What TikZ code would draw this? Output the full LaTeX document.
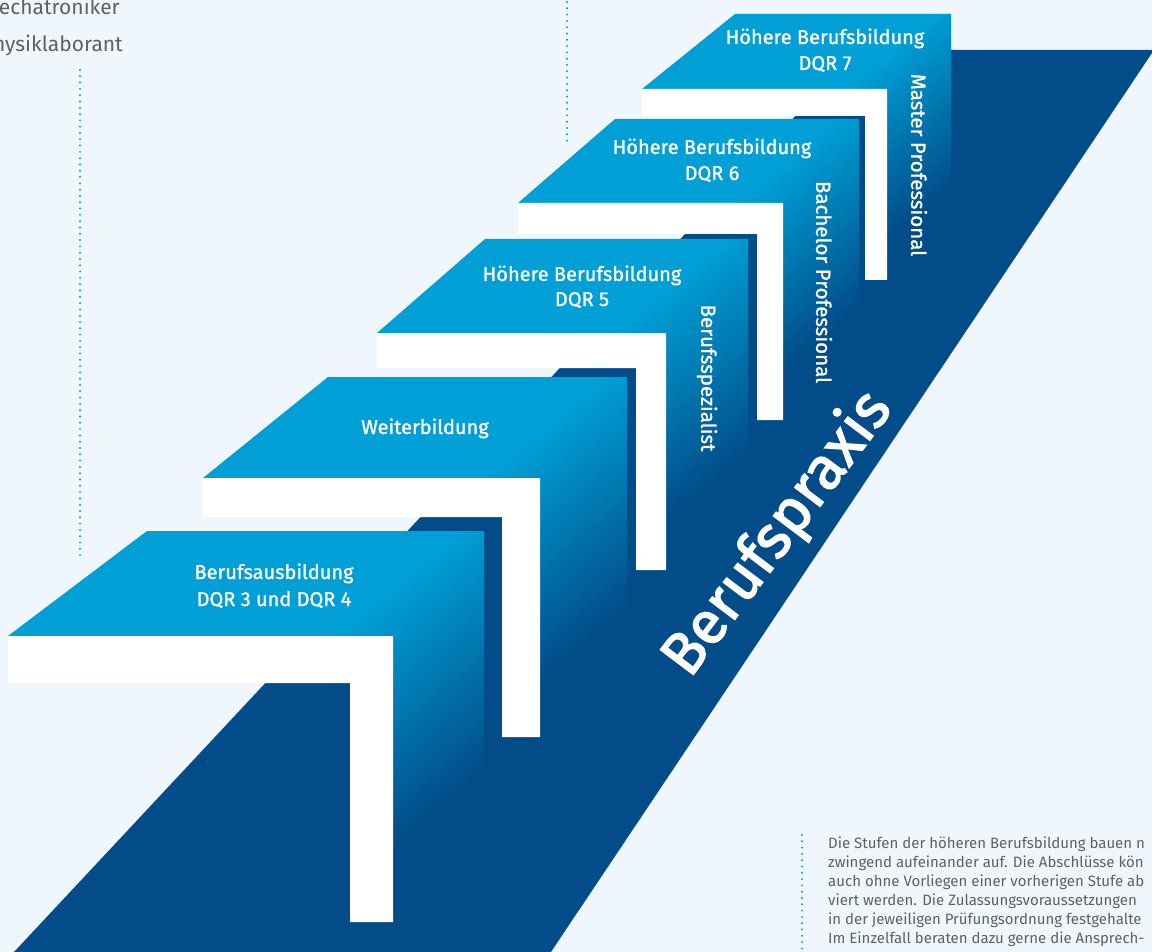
\documentclass[tikz,border=0pt]{standalone}
\usepackage{fontspec}
\setmainfont{Fira Sans}
\newfontfamily\stufenfont{Fira Sans}[FakeBold=1.2]
\newfontfamily\praxisfont{Fira Sans}[FakeBold=2.2]
\definecolor{hgblau}{RGB}{240,247,252}
\definecolor{cyanblau}{RGB}{0,160,214}
\definecolor{dunkelblau}{RGB}{2,77,137}
\definecolor{textgrau}{RGB}{96,96,96}
% Stufe: links, oben, unterkante, balken unten, ecke oben, rechts, saeule links, saeule rechts, saeule unten
\newcommand{\stufe}[9]{%
\begin{scope}
\clip (#1,#3) -- (#5,#2) -- (#6,#2) -- (#6,#9) -- (#8,#9) -- (#8,#3) -- cycle;
\pgfmathsetmacro{\gab}{-0.38*(#3-#2)}
\pgfmathsetmacro{\glen}{1.9*(#3-#2)}
\begin{scope}[shift={(#8,#3)},rotate=-50]
\fill[cyanblau] (-900,-600) rectangle ({\gab+0.8},600);
\foreach \i in {0,...,39} {
  \pgfmathsetmacro{\gA}{\gab+\i*\glen/40}
  \pgfmathsetmacro{\gB}{\gA+\glen/40+0.8}
  \pgfmathsetmacro{\anteil}{100-\i*2.5}
  \fill[cyanblau!\anteil!dunkelblau] (\gA,-600) rectangle (\gB,600);
}
\fill[dunkelblau] ({\gab+\glen},-600) rectangle (900,600);
\end{scope}
\end{scope}
\fill[white] (#1,#3) -- (#8,#3) -- (#8,#9) -- (#7,#9) -- (#7,#4) -- (#1,#4) -- cycle;
}
\begin{document}
\begin{tikzpicture}[x=1pt,y=-1pt,
  stufentext/.style={anchor=base,text=white,font=\stufenfont\fontsize{20}{24}\selectfont},
  seitentext/.style={rotate=-90,text=white,font=\stufenfont\fontsize{20.5}{24}\selectfont},
  infotext/.style={anchor=base west,text=textgrau,inner sep=0pt,font=\fontsize{15}{19}\selectfont},
  berufe/.style={anchor=base east,text=textgrau,inner sep=0pt,font=\fontsize{21}{24}\selectfont},
  punktlinie/.style={cyanblau,line width=2.2pt,line cap=round,dash pattern=on 0pt off 6.3pt}]
\useasboundingbox (0,0) rectangle (1152,952);
\clip (0,0) rectangle (1152,952);
\fill[hgblau] (0,0) rectangle (1152,952);
% gepunktete Linien
\draw[punktlinie] (80,70) -- (80,561);
\draw[punktlinie] (567,2) -- (567,141);
\draw[punktlinie] (802,835) -- (802,952);
% Berufspraxis-Band
\fill[dunkelblau] (14,952) -- (857,50) -- (1154,50) -- (551,952) -- cycle;
% Stufen von oben nach unten
\stufe{642}{14}{89}{116}{735}{951}{865}{887}{280}
\stufe{518}{119}{203}{234}{615}{859}{757}{783}{420}
\stufe{377}{239}{333}{368}{485}{748}{636}{666}{570}
\stufe{203}{377}{478}{517}{328}{627}{502}{540}{737}
\stufe{8}{531}{636}{683}{147}{484}{350}{393}{922}
% Beschriftung der Stufen
\node[stufentext] (s5a) at (825,44) {Höhere Berufsbildung};
\node[stufentext] (s5b) at (825,70) {DQR 7};
\node[stufentext] (s4a) at (712,154) {Höhere Berufsbildung};
\node[stufentext] (s4b) at (712,180) {DQR 6};
\node[stufentext] (s3a) at (582,281) {Höhere Berufsbildung};
\node[stufentext] (s3b) at (582,306) {DQR 5};
\node[stufentext] (s2a) at (425,434) {Weiterbildung};
\node[stufentext] (s1a) at (274,579) {Berufsausbildung};
\node[stufentext] (s1b) at (274,606) {DQR 3 und DQR 4};
\node[seitentext] (master) at (919,165) {Master Professional};
\node[seitentext] (bachelor) at (824,282) {Bachelor Professional};
\node[seitentext] (spezialist) at (707,378) {Berufsspezialist};
\node[rotate=53,inner sep=0pt,text=white,font=\praxisfont\fontsize{60}{62}\selectfont] (praxis) at (778,534) {Berufspraxis};
% Texte am Rand
\node[berufe] (mecha) at (120,15) {echatroniker};
\node[berufe] (physik) at (123,52) {hysiklaborant};
\node[infotext] (info1) at (828,848) {Die Stufen der höheren Berufsbildung bauen n};
\node[infotext] (info2) at (828,867) {zwingend aufeinander auf. Die Abschlüsse kön};
\node[infotext] (info3) at (828,886) {auch ohne Vorliegen einer vorherigen Stufe ab};
\node[infotext] (info4) at (828,905) {viert werden. Die Zulassungsvoraussetzungen};
\node[infotext] (info5) at (828,924) {in der jeweiligen Prüfungsordnung festgehalte};
\node[infotext] (info6) at (828,943) {Im Einzelfall beraten dazu gerne die Ansprech-};
\end{tikzpicture}
\end{document}
